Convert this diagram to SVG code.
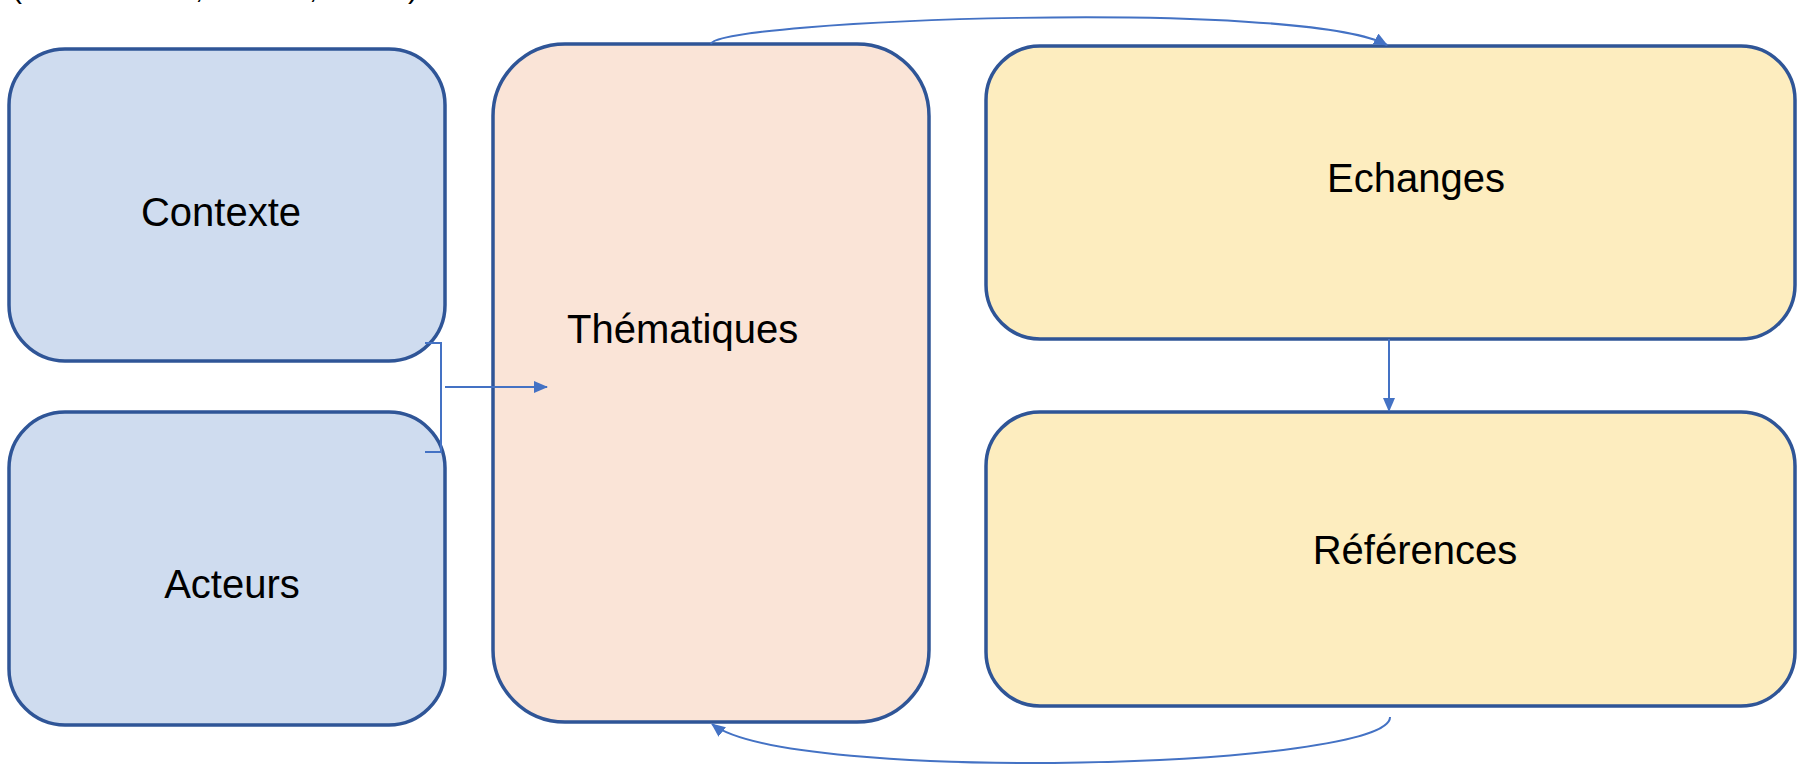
<svg xmlns="http://www.w3.org/2000/svg" width="1805" height="768" viewBox="0 0 1805 768">
<style>
.box{stroke:#2F5597;stroke-width:3.5}
.blue{fill:#CFDCEF}
.peach{fill:#FAE4D7}
.yellow{fill:#FDEDBF}
.lbl{font-family:"Liberation Sans",Arial,sans-serif;font-size:40px;fill:#000}
.top{font-family:"Liberation Sans",Arial,sans-serif;font-size:30px;fill:#000}
.conn{fill:none;stroke:#4472C4;stroke-width:2}
</style>
<defs>
<marker id="ah" markerUnits="userSpaceOnUse" markerWidth="14" markerHeight="12" refX="13" refY="6" orient="auto">
<path d="M0,0 L14,6 L0,12 Z" fill="#4472C4"/>
</marker>
</defs>
<rect width="1805" height="768" fill="#FFFFFF"/>
<g id="header-fragment">
<text class="top" x="12" y="-2">(</text>
<text class="top" x="195" y="-2">,</text>
<text class="top" x="309" y="-2">,</text>
<text class="top" x="408" y="-2">)</text>
</g>
<g id="contexte">
<rect class="box blue" x="9" y="49" width="436" height="312" rx="56" ry="56"/>
<text class="lbl" x="221" y="226" text-anchor="middle">Contexte</text>
</g>
<g id="acteurs">
<rect class="box blue" x="9" y="412" width="436" height="313" rx="56" ry="56"/>
<text class="lbl" x="232" y="598" text-anchor="middle">Acteurs</text>
</g>
<g id="thematiques">
<rect class="box peach" x="493" y="44" width="436" height="678" rx="72" ry="72"/>
<text class="lbl" x="567" y="343">Thématiques</text>
</g>
<g id="echanges">
<rect class="box yellow" x="986" y="46" width="809" height="293" rx="54" ry="54"/>
<text class="lbl" x="1416" y="192" text-anchor="middle">Echanges</text>
</g>
<g id="references">
<rect class="box yellow" x="986" y="412" width="809" height="294" rx="54" ry="54"/>
<text class="lbl" x="1415" y="564" text-anchor="middle">Références</text>
</g>
<g id="connectors">
<polyline class="conn" points="425,343 441,343 441,452 425,452"/>
<line class="conn" x1="445" y1="387" x2="547" y2="387" marker-end="url(#ah)"/>
<path class="conn" d="M711,44 C715,20 1300,-2 1387,45" marker-end="url(#ah)"/>
<line class="conn" x1="1389" y1="339" x2="1389" y2="411" marker-end="url(#ah)"/>
<path class="conn" d="M1390,717 C1392,768 790,785 712,724" marker-end="url(#ah)"/>
</g>
</svg>
